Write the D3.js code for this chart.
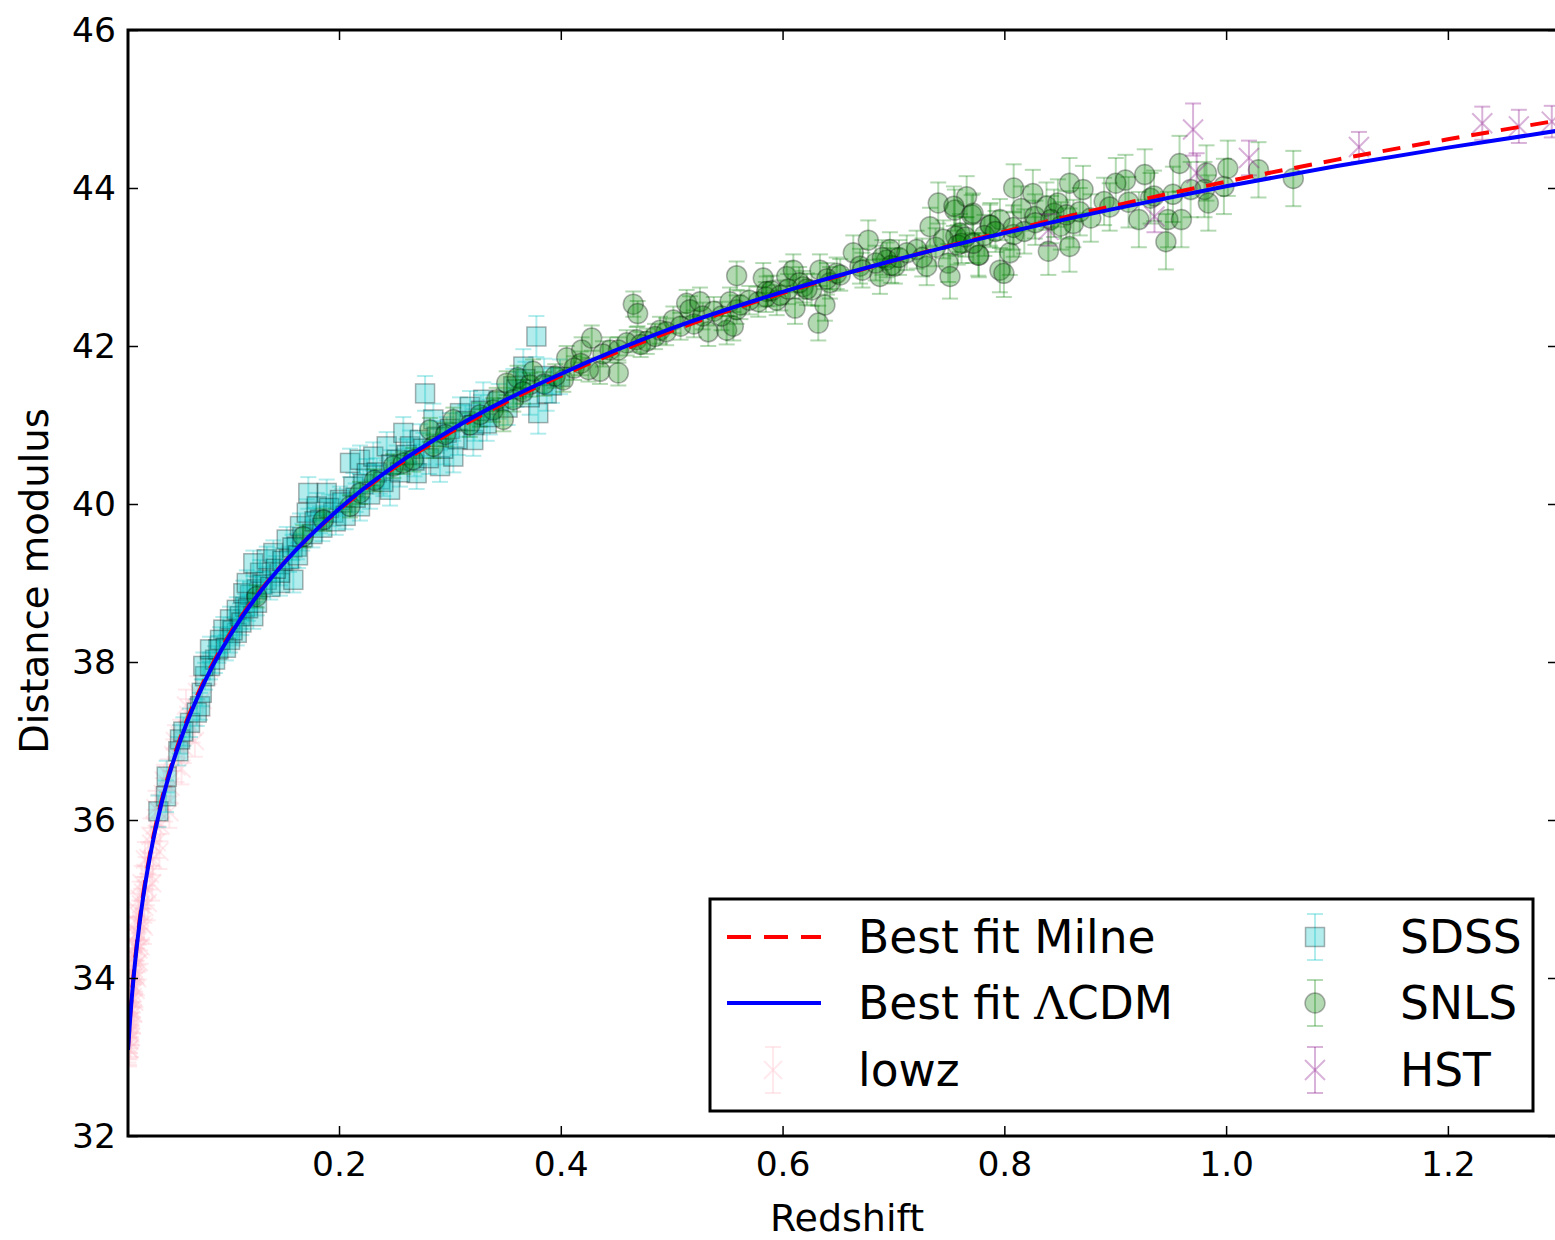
<!DOCTYPE html>
<html>
<head>
<meta charset="utf-8">
<script src="https://cdn.jsdelivr.net/npm/d3@7"></script>
<style>
  body { margin: 0; background: #fff; }
  text { font-family: "DejaVu Sans", sans-serif; }
</style>
</head>
<body>
<script>
// model curves, sampled at these redshifts
const curveZ =   [0.0097, 0.012, 0.015, 0.02, 0.025, 0.03, 0.04, 0.05, 0.06, 0.08, 0.1, 0.125, 0.15, 0.2, 0.25, 0.3, 0.35, 0.4, 0.5, 0.6, 0.7, 0.8, 0.9, 1.0, 1.1, 1.2, 1.3];
const lcdmMu =   [33.090, 33.556, 34.045, 34.678, 35.171, 35.575, 36.216, 36.716, 37.127, 37.783, 38.297, 38.817, 39.247, 39.938, 40.483, 40.931, 41.315, 41.646, 42.222, 42.685, 43.083, 43.429, 43.739, 44.022, 44.278, 44.511, 44.727];
const milneMu =  [33.120, 33.586, 34.075, 34.708, 35.201, 35.605, 36.246, 36.746, 37.157, 37.810, 38.320, 38.830, 39.250, 39.925, 40.460, 40.900, 41.285, 41.620, 42.190, 42.670, 43.080, 43.446, 43.778, 44.080, 44.359, 44.616, 44.857];

// [redshift, distance modulus, error]
const lowz = [
  [0.0100, 33.15, 0.22], [0.0102, 33.32, 0.25], [0.0105, 33.10, 0.2], [0.0108, 33.46, 0.22], [0.0110, 33.22, 0.25],
  [0.0113, 33.58, 0.22], [0.0117, 33.33, 0.22], [0.0120, 33.72, 0.2], [0.0124, 33.47, 0.22], [0.0128, 33.83, 0.2],
  [0.0132, 33.60, 0.2], [0.0136, 34.02, 0.2], [0.0140, 33.76, 0.2], [0.0145, 34.12, 0.2], [0.0150, 33.90, 0.2],
  [0.0156, 34.27, 0.2], [0.0162, 34.03, 0.2], [0.0168, 34.41, 0.2], [0.0175, 34.18, 0.2], [0.0182, 34.57, 0.2],
  [0.0190, 34.36, 0.2], [0.0198, 34.78, 0.2], [0.0206, 34.55, 0.2], [0.0215, 34.93, 0.2], [0.0224, 34.68, 0.2],
  [0.0234, 35.08, 0.2], [0.0245, 34.90, 0.2], [0.0256, 35.33, 0.2], [0.0268, 35.12, 0.2], [0.0280, 35.52, 0.2],
  [0.0293, 35.32, 0.2], [0.0307, 35.70, 0.2], [0.0322, 35.50, 0.2], [0.0338, 35.93, 0.2], [0.0355, 35.72, 0.2],
  [0.0372, 36.12, 0.2], [0.0390, 35.93, 0.2], [0.0410, 36.33, 0.2], [0.0432, 36.18, 0.2], [0.0455, 36.57, 0.2],
  [0.0480, 36.42, 0.2], [0.0505, 36.82, 0.2], [0.0535, 36.68, 0.2], [0.0565, 37.07, 0.2], [0.0600, 36.92, 0.2],
  [0.0640, 37.33, 0.2], [0.0680, 37.18, 0.2], [0.0720, 37.62, 0.2], [0.0770, 37.52, 0.2], [0.0830, 37.92, 0.2],
  [0.0101, 33.40, 0.25], [0.0104, 33.20, 0.22], [0.0107, 33.10, 0.22], [0.0112, 33.70, 0.25], [0.0115, 33.30, 0.25],
  [0.0119, 33.95, 0.25], [0.0122, 33.25, 0.25], [0.0126, 34.10, 0.25], [0.0130, 33.40, 0.25], [0.0134, 34.25, 0.25],
  [0.0143, 33.55, 0.25], [0.0148, 34.40, 0.25], [0.0153, 33.70, 0.25], [0.0159, 34.55, 0.22], [0.0165, 33.85, 0.22],
  [0.0171, 34.70, 0.22], [0.0178, 34.00, 0.22], [0.0186, 34.85, 0.22], [0.0194, 34.20, 0.22], [0.0202, 35.00, 0.22],
  [0.0211, 34.40, 0.22], [0.0220, 35.20, 0.22], [0.0240, 34.65, 0.22], [0.0250, 35.50, 0.22], [0.0275, 34.95, 0.22],
  [0.0300, 35.80, 0.22], [0.0315, 35.20, 0.22], [0.0345, 36.15, 0.22], [0.0380, 35.60, 0.22], [0.0420, 36.50, 0.2],
  [0.0470, 36.10, 0.2], [0.0520, 37.00, 0.2], [0.0580, 36.65, 0.2], [0.0620, 37.45, 0.2], [0.0700, 37.00, 0.2]
];

const sdss = [
  [0.0371, 36.11, 0.2], [0.0440, 36.30, 0.2], [0.0446, 36.55, 0.2], [0.0551, 36.87, 0.18], [0.0566, 37.02, 0.18],
  [0.0596, 37.12, 0.18], [0.0656, 37.23, 0.18], [0.0717, 37.36, 0.17], [0.0747, 37.44, 0.17], [0.0762, 37.61, 0.17],
  [0.0792, 37.82, 0.17], [0.0837, 37.95, 0.17], [0.0882, 38.03, 0.17], [0.0776, 37.95, 0.17], [0.0912, 38.16, 0.17],
  [0.1017, 38.28, 0.16], [0.1078, 38.37, 0.16], [0.0957, 38.41, 0.16], [0.1017, 38.54, 0.16], [0.1107, 38.58, 0.16],
  [0.1152, 38.70, 0.16], [0.1197, 38.85, 0.16], [0.1258, 38.92, 0.16], [0.1348, 39.04, 0.16], [0.1468, 39.00, 0.16],
  [0.1588, 39.04, 0.16], [0.0837, 38.16, 0.16], [0.0927, 38.28, 0.16], [0.1078, 38.66, 0.16], [0.1227, 38.58, 0.16],
  [0.1137, 38.87, 0.16], [0.1168, 39.00, 0.16], [0.1288, 39.13, 0.16], [0.1227, 39.25, 0.16], [0.1348, 39.30, 0.16],
  [0.1408, 39.38, 0.16], [0.1468, 39.13, 0.16], [0.1528, 39.55, 0.16], [0.1619, 39.46, 0.16], [0.1648, 39.72, 0.16],
  [0.1709, 39.89, 0.17], [0.1723, 40.14, 0.2], [0.1799, 39.97, 0.17], [0.1889, 40.14, 0.17], [0.1829, 39.80, 0.17],
  [0.1949, 39.89, 0.17], [0.2009, 40.05, 0.17], [0.2129, 40.22, 0.17], [0.2099, 40.52, 0.18], [0.2189, 40.56, 0.18],
  [0.2250, 40.39, 0.18], [0.2189, 39.97, 0.18], [0.2309, 40.60, 0.18], [0.2370, 40.31, 0.18], [0.2430, 40.73, 0.18],
  [0.2520, 40.56, 0.18], [0.2580, 40.90, 0.2], [0.2640, 40.73, 0.2], [0.2460, 40.18, 0.2], [0.2700, 40.39, 0.2],
  [0.2730, 40.81, 0.2], [0.2851, 41.07, 0.2], [0.2911, 40.48, 0.2], [0.2971, 40.90, 0.2], [0.3031, 40.60, 0.2],
  [0.3091, 41.15, 0.2], [0.3181, 41.23, 0.2], [0.3211, 40.81, 0.2], [0.3301, 41.32, 0.22], [0.3332, 41.02, 0.22],
  [0.3572, 41.49, 0.22], [0.3662, 41.74, 0.22], [0.3873, 41.40, 0.22], [0.3993, 41.61, 0.22], [0.2776, 41.40, 0.22],
  [0.3780, 42.12, 0.26], [0.3797, 41.15, 0.26],
  [0.098, 38.18, 0.16], [0.104, 38.40, 0.16], [0.112, 38.50, 0.16], [0.118, 38.68, 0.16], [0.126, 38.75, 0.16],
  [0.131, 38.98, 0.16], [0.138, 38.95, 0.16], [0.143, 39.18, 0.16], [0.149, 39.28, 0.16], [0.155, 39.30, 0.16],
  [0.158, 39.45, 0.16], [0.163, 39.35, 0.16], [0.167, 39.58, 0.17], [0.176, 39.62, 0.17], [0.178, 39.78, 0.17],
  [0.185, 39.70, 0.17], [0.191, 39.95, 0.17], [0.197, 39.78, 0.17], [0.203, 40.02, 0.17], [0.206, 39.85, 0.17],
  [0.215, 40.08, 0.18], [0.222, 40.25, 0.18], [0.228, 40.12, 0.18], [0.234, 40.40, 0.18], [0.240, 40.28, 0.18],
  [0.247, 40.50, 0.18], [0.255, 40.40, 0.18], [0.261, 40.62, 0.2], [0.268, 40.55, 0.2], [0.276, 40.70, 0.2],
  [0.281, 40.58, 0.2], [0.288, 40.85, 0.2], [0.294, 40.70, 0.2], [0.300, 40.95, 0.2], [0.307, 40.82, 0.2],
  [0.314, 41.05, 0.2], [0.322, 41.00, 0.2], [0.328, 41.18, 0.2], [0.336, 41.10, 0.22], [0.344, 41.30, 0.22],
  [0.352, 41.22, 0.22], [0.360, 41.45, 0.22], [0.368, 41.58, 0.22], [0.372, 41.35, 0.22], [0.385, 41.62, 0.22],
  [0.392, 41.50, 0.22]
];

const snls = [
  [0.1258, 38.83, 0.14], [0.1678, 39.59, 0.14], [0.1859, 39.80, 0.14], [0.2099, 39.97, 0.14], [0.2189, 40.14, 0.14],
  [0.2490, 40.48, 0.15], [0.2670, 40.56, 0.15], [0.2820, 40.94, 0.15], [0.2851, 40.73, 0.15], [0.3031, 41.07, 0.15],
  [0.3271, 41.13, 0.15], [0.3390, 41.19, 0.15], [0.3422, 41.32, 0.15], [0.3482, 41.07, 0.15], [0.3512, 41.53, 0.15],
  [0.3572, 41.32, 0.15], [0.3610, 41.60, 0.15], [0.3722, 41.51, 0.15], [0.3750, 41.68, 0.15], [0.4023, 41.57, 0.15],
  [0.4053, 41.85, 0.15], [0.4188, 41.95, 0.16], [0.4279, 42.10, 0.16], [0.4519, 41.66, 0.16], [0.4353, 41.68, 0.16],
  [0.4444, 41.95, 0.16], [0.4684, 42.08, 0.16], [0.4775, 42.06, 0.16], [0.4594, 42.04, 0.16], [0.4654, 42.53, 0.16],
  [0.4693, 42.41, 0.16], [0.4895, 42.20, 0.17], [0.5015, 42.33, 0.17], [0.5135, 42.54, 0.17], [0.5165, 42.46, 0.17],
  [0.5255, 42.56, 0.18], [0.5330, 42.18, 0.18], [0.5496, 42.20, 0.18], [0.5556, 42.25, 0.18], [0.5586, 42.46, 0.18],
  [0.5526, 42.56, 0.18], [0.5586, 42.89, 0.18], [0.5781, 42.56, 0.19], [0.5826, 42.86, 0.19], [0.5856, 42.69, 0.19],
  [0.5947, 42.58, 0.19], [0.6037, 42.88, 0.19], [0.6097, 42.96, 0.2], [0.6112, 42.48, 0.2], [0.6187, 42.75, 0.2],
  [0.6262, 42.71, 0.2], [0.6337, 42.96, 0.2], [0.6382, 42.52, 0.2], [0.6322, 42.29, 0.22], [0.6427, 42.80, 0.2],
  [0.6488, 42.92, 0.2], [0.6638, 43.18, 0.22], [0.6698, 43.01, 0.22], [0.6773, 43.34, 0.25], [0.6878, 42.88, 0.22],
  [0.6968, 43.22, 0.22], [0.7013, 43.01, 0.22], [0.6939, 43.09, 0.22], [0.7209, 43.22, 0.24], [0.7330, 43.51, 0.24],
  [0.7300, 43.01, 0.24], [0.7404, 43.81, 0.26], [0.7494, 43.05, 0.24], [0.7554, 43.72, 0.26], [0.7600, 43.43, 0.24],
  [0.7660, 43.89, 0.26], [0.7705, 43.66, 0.25], [0.7765, 43.15, 0.26], [0.7870, 43.53, 0.26], [0.7960, 42.96, 0.28],
  [0.7960, 43.60, 0.26], [0.7718, 43.68, 0.25], [0.7545, 43.77, 0.25], [0.7510, 42.88, 0.28], [0.7562, 43.39, 0.25],
  [0.7614, 43.30, 0.25], [0.7770, 43.15, 0.28], [0.7875, 43.53, 0.28], [0.7996, 42.92, 0.3], [0.8049, 43.18, 0.28],
  [0.8084, 43.41, 0.28], [0.8084, 44.00, 0.3], [0.8153, 43.74, 0.28], [0.8257, 43.93, 0.3], [0.8275, 43.64, 0.28],
  [0.8397, 43.20, 0.3], [0.8380, 43.77, 0.3], [0.8449, 43.68, 0.3], [0.8483, 43.81, 0.3], [0.8588, 44.06, 0.32],
  [0.8588, 43.26, 0.32], [0.8623, 43.55, 0.3], [0.8710, 43.98, 0.3], [0.8900, 43.83, 0.3], [0.9005, 44.06, 0.32],
  [0.9092, 44.10, 0.32], [0.9213, 43.60, 0.35], [0.9266, 44.17, 0.32], [0.9318, 43.87, 0.32], [0.9457, 43.32, 0.35],
  [0.9475, 43.60, 0.35], [0.9580, 44.31, 0.35], [0.9597, 43.60, 0.35], [0.9823, 44.19, 0.35], [0.9805, 43.98, 0.35],
  [0.9840, 43.81, 0.35], [0.9980, 44.02, 0.35], [1.0015, 44.25, 0.35], [1.0292, 44.23, 0.35], [1.0606, 44.12, 0.35],
  [0.232, 40.30, 0.14], [0.258, 40.52, 0.14], [0.296, 40.88, 0.15], [0.318, 41.00, 0.15], [0.366, 41.42, 0.15],
  [0.385, 41.52, 0.15], [0.395, 41.62, 0.15], [0.412, 41.72, 0.15], [0.418, 41.78, 0.15], [0.425, 41.70, 0.15],
  [0.438, 41.90, 0.16], [0.452, 41.95, 0.16], [0.472, 42.02, 0.16], [0.485, 42.12, 0.16], [0.495, 42.18, 0.17],
  [0.508, 42.25, 0.17], [0.520, 42.28, 0.17], [0.528, 42.38, 0.17], [0.538, 42.44, 0.18], [0.545, 42.38, 0.18],
  [0.562, 42.52, 0.18], [0.570, 42.58, 0.18], [0.585, 42.62, 0.19], [0.590, 42.70, 0.19], [0.598, 42.64, 0.19],
  [0.605, 42.72, 0.19], [0.615, 42.80, 0.2], [0.622, 42.72, 0.2], [0.640, 42.85, 0.2], [0.652, 42.90, 0.2],
  [0.672, 42.96, 0.22], [0.684, 43.05, 0.22], [0.690, 43.12, 0.22], [0.698, 43.02, 0.22], [0.705, 43.12, 0.22],
  [0.712, 43.18, 0.22], [0.726, 43.12, 0.24], [0.738, 43.25, 0.24], [0.745, 43.35, 0.24], [0.758, 43.28, 0.25],
  [0.765, 43.38, 0.25], [0.772, 43.30, 0.25], [0.782, 43.40, 0.26], [0.792, 43.45, 0.26], [0.808, 43.50, 0.28],
  [0.818, 43.45, 0.28], [0.828, 43.56, 0.28], [0.842, 43.60, 0.3], [0.851, 43.52, 0.3], [0.856, 43.66, 0.3],
  [0.868, 43.70, 0.3], [0.878, 43.62, 0.3], [0.895, 43.76, 0.3], [0.912, 43.82, 0.32], [0.935, 43.90, 0.32],
  [0.952, 43.92, 0.35], [0.968, 43.98, 0.35]
];

const hst = [
  [0.8397, 43.47, 0.2], [0.9354, 43.64, 0.2], [0.9702, 44.74, 0.33], [0.9734, 44.19, 0.25], [1.0206, 44.38, 0.22],
  [1.1198, 44.52, 0.19], [1.2310, 44.82, 0.21], [1.2640, 44.78, 0.21], [1.2937, 44.84, 0.2]
];

const xTicks = [0.2, 0.4, 0.6, 0.8, 1.0, 1.2];
const yTicks = [32, 34, 36, 38, 40, 42, 44, 46];

const width = 1555, height = 1240;
const xLeft = 128, xRight = 1558, yTop = 30, yBottom = 1136;

const svg = d3.select("body").append("svg")
  .attr("width", width)
  .attr("height", height);

const x = d3.scaleLinear().domain([0.0097, 1.2993]).range([xLeft, xRight]);
const y = d3.scaleLinear().domain([32, 46]).range([yBottom, yTop]);

svg.append("clipPath").attr("id", "plot-clip")
  .append("rect")
  .attr("x", xLeft).attr("y", yTop)
  .attr("width", xRight - xLeft).attr("height", yBottom - yTop);

const plot = svg.append("g").attr("clip-path", "url(#plot-clip)");

const cap = 8;

// draw one error-bar series: bars, caps, then markers
const draw_series = function(data, color, alpha, marker) {
  const g = plot.append("g");
  const bars = g.append("g")
    .attr("stroke", color)
    .attr("stroke-opacity", alpha)
    .attr("stroke-width", 2);
  data.forEach(function(d) {
    const cx = x(d[0]), y0 = y(d[1] - d[2]), y1 = y(d[1] + d[2]);
    bars.append("line").attr("x1", cx).attr("x2", cx).attr("y1", y0).attr("y2", y1);
    bars.append("line").attr("x1", cx - cap).attr("x2", cx + cap).attr("y1", y0).attr("y2", y0);
    bars.append("line").attr("x1", cx - cap).attr("x2", cx + cap).attr("y1", y1).attr("y2", y1);
  });
  data.forEach(function(d) {
    marker(g, x(d[0]), y(d[1]));
  });
};

const square = function(color, alpha) {
  return function(g, cx, cy) {
    g.append("rect")
      .attr("x", cx - 9.5).attr("y", cy - 9.5)
      .attr("width", 19).attr("height", 19)
      .attr("fill", color).attr("fill-opacity", alpha)
      .attr("stroke", "#000").attr("stroke-opacity", alpha)
      .attr("stroke-width", 1.5);
  };
};

const circle = function(color, alpha) {
  return function(g, cx, cy) {
    g.append("circle")
      .attr("cx", cx).attr("cy", cy).attr("r", 10)
      .attr("fill", color).attr("fill-opacity", alpha)
      .attr("stroke", "#000").attr("stroke-opacity", alpha)
      .attr("stroke-width", 1.5);
  };
};

const cross = function(color, alpha, s) {
  return function(g, cx, cy) {
    g.append("path")
      .attr("d", `M${cx - s},${cy - s}L${cx + s},${cy + s}M${cx - s},${cy + s}L${cx + s},${cy - s}`)
      .attr("stroke", color).attr("stroke-opacity", alpha)
      .attr("stroke-width", 2).attr("fill", "none");
  };
};

draw_series(lowz, "#ffc0cb", 0.35, cross("#ffc0cb", 0.35, 9));
draw_series(sdss, "#00bfbf", 0.3, square("#00bfbf", 0.3));
draw_series(snls, "#008000", 0.3, circle("#008000", 0.3));
draw_series(hst, "#800080", 0.3, cross("#800080", 0.3, 10));

const line = d3.line()
  .x(function(d, i) { return x(curveZ[i]); })
  .y(function(d) { return y(d); })
  .curve(d3.curveMonotoneX);

plot.append("path")
  .attr("d", line(milneMu))
  .attr("fill", "none")
  .attr("stroke", "#ff0000")
  .attr("stroke-width", 4)
  .attr("stroke-dasharray", "18,12");

plot.append("path")
  .attr("d", line(lcdmMu))
  .attr("fill", "none")
  .attr("stroke", "#0000ff")
  .attr("stroke-width", 4);

// axes, ticks pointing inward on all four sides
const style_axis = function(g) {
  g.select(".domain").remove();
  g.selectAll(".tick line").attr("stroke", "#000").attr("stroke-width", 1.5);
  g.selectAll(".tick text").attr("fill", "#000")
    .style("font-family", "'DejaVu Sans', sans-serif")
    .style("font-size", "34.5px");
};

svg.append("g")
  .attr("transform", `translate(0,${yBottom})`)
  .call(d3.axisBottom(x).tickValues(xTicks).tickFormat(d3.format(".1f")).tickSize(-10).tickPadding(16))
  .call(style_axis);

svg.append("g")
  .attr("transform", `translate(0,${yTop})`)
  .call(d3.axisTop(x).tickValues(xTicks).tickFormat("").tickSize(-10))
  .call(style_axis);

svg.append("g")
  .attr("transform", `translate(${xLeft},0)`)
  .call(d3.axisLeft(y).tickValues(yTicks).tickFormat(d3.format("d")).tickSize(-10).tickPadding(12))
  .call(style_axis);

svg.append("g")
  .attr("transform", `translate(${xRight},0)`)
  .call(d3.axisRight(y).tickValues(yTicks).tickFormat("").tickSize(-10))
  .call(style_axis);

svg.append("rect")
  .attr("x", xLeft).attr("y", yTop)
  .attr("width", xRight - xLeft).attr("height", yBottom - yTop)
  .attr("fill", "none")
  .attr("stroke", "#000")
  .attr("stroke-width", 3);

svg.append("text")
  .attr("x", 847).attr("y", 1231)
  .attr("text-anchor", "middle")
  .style("font-size", "38px")
  .text("Redshift");

svg.append("text")
  .attr("transform", "translate(48,581) rotate(-90)")
  .attr("text-anchor", "middle")
  .style("font-size", "38.5px")
  .text("Distance modulus");

// legend
const legend = svg.append("g");
legend.append("rect")
  .attr("x", 710).attr("y", 899)
  .attr("width", 823).attr("height", 212)
  .attr("fill", "#fff")
  .attr("stroke", "#000")
  .attr("stroke-width", 3);

const rows = [937, 1003, 1070];

legend.append("line")
  .attr("x1", 727).attr("x2", 821).attr("y1", rows[0]).attr("y2", rows[0])
  .attr("stroke", "#ff0000").attr("stroke-width", 4).attr("stroke-dasharray", "24,13");
legend.append("line")
  .attr("x1", 727).attr("x2", 821).attr("y1", rows[1]).attr("y2", rows[1])
  .attr("stroke", "#0000ff").attr("stroke-width", 4);

const legend_marker = function(cx, cy, color, alpha, marker) {
  const g = legend.append("g");
  g.append("g").attr("stroke", color).attr("stroke-opacity", alpha).attr("stroke-width", 2)
    .call(function(s) {
      s.append("line").attr("x1", cx).attr("x2", cx).attr("y1", cy - 23).attr("y2", cy + 23);
      s.append("line").attr("x1", cx - cap).attr("x2", cx + cap).attr("y1", cy - 23).attr("y2", cy - 23);
      s.append("line").attr("x1", cx - cap).attr("x2", cx + cap).attr("y1", cy + 23).attr("y2", cy + 23);
    });
  marker(g, cx, cy);
};

legend_marker(773, rows[2], "#ffc0cb", 0.35, cross("#ffc0cb", 0.35, 9));
legend_marker(1315, rows[0], "#00bfbf", 0.3, square("#00bfbf", 0.3));
legend_marker(1315, rows[1], "#008000", 0.3, circle("#008000", 0.3));
legend_marker(1315, rows[2], "#800080", 0.3, cross("#800080", 0.3, 10));

const legend_text = function(tx, ty) {
  return legend.append("text")
    .attr("x", tx).attr("y", ty)
    .attr("dy", "0.36em")
    .style("font-size", "45.5px");
};

legend_text(858, rows[0]).text("Best fit Milne");
const lt = legend_text(858, rows[1]);
lt.append("tspan").text("Best fit ");
lt.append("tspan").style("font-family", "'DejaVu Serif', serif").text("\u039b");
lt.append("tspan").text("CDM");
legend_text(858, rows[2]).text("lowz");
legend_text(1400, rows[0]).text("SDSS");
legend_text(1400, rows[1]).text("SNLS");
legend_text(1400, rows[2]).text("HST");
</script>
</body>
</html>
